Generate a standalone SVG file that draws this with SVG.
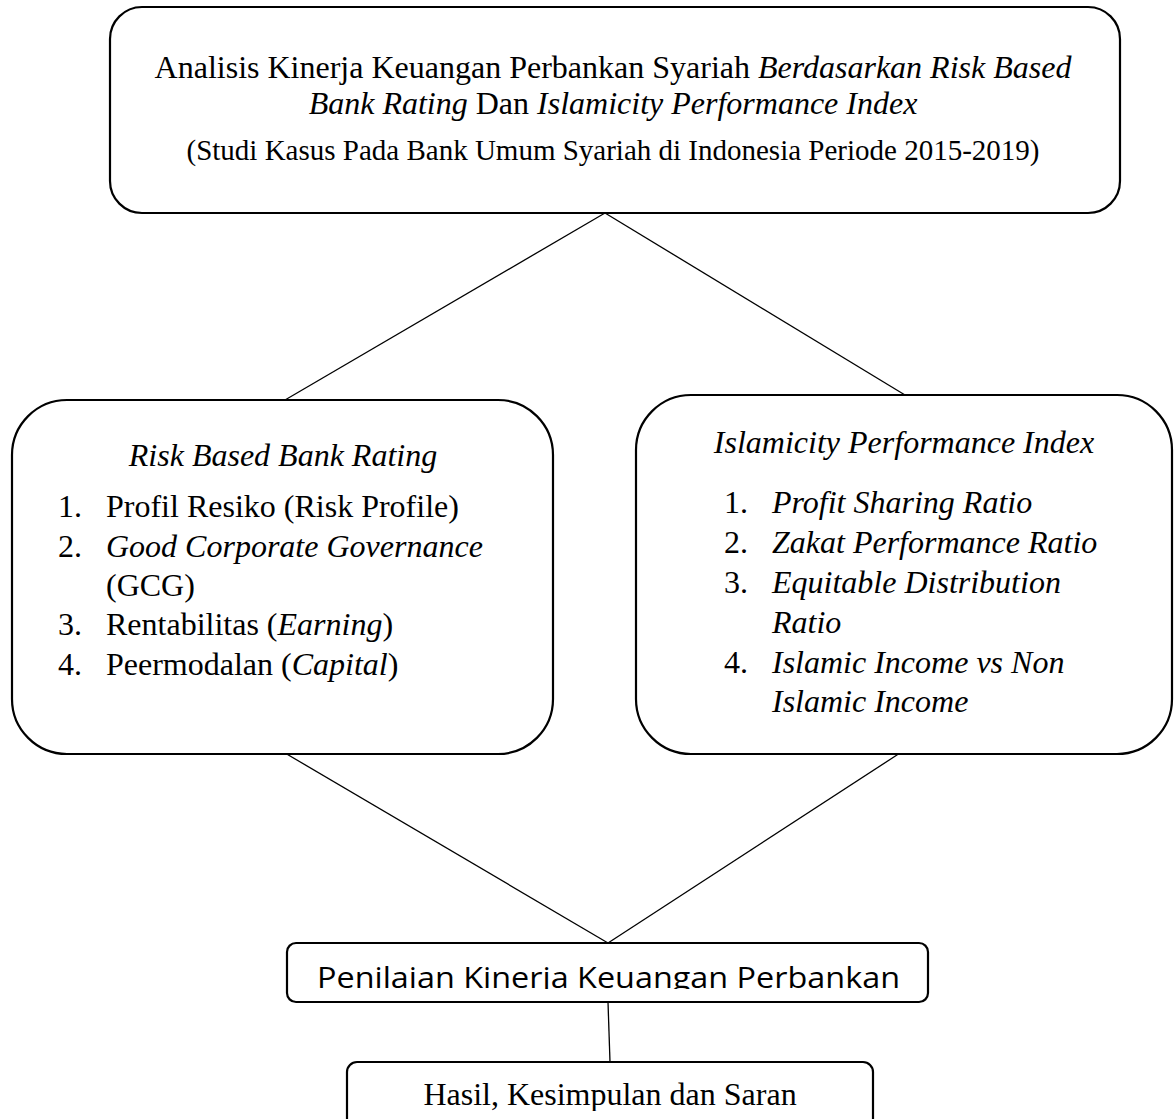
<svg xmlns="http://www.w3.org/2000/svg" width="1174" height="1119" viewBox="0 0 1174 1119">
  <style>
    .box { fill: #ffffff; stroke: #000000; stroke-width: 2.2; }
    .conn { stroke: #000000; stroke-width: 1.3; fill: none; }
    .t { font-family: "Liberation Serif", "Times New Roman", serif; font-size: 32px; fill: #000000; }
    .i { font-style: italic; }
    .s { font-family: "Open Sans", "Noto Sans", "Liberation Sans", sans-serif; font-size: 30px; fill: #000000; }
  </style>
  <defs>
    <clipPath id="clipPen">
      <rect x="280" y="940" width="660" height="49"/>
    </clipPath>
    <clipPath id="clipHasil">
      <rect x="340" y="1060" width="540" height="51"/>
    </clipPath>
  </defs>

  <g id="connectors">
    <line class="conn" x1="605" y1="213" x2="285" y2="400"/>
    <line class="conn" x1="605" y1="213" x2="905" y2="395"/>
    <line class="conn" x1="285" y1="753" x2="608" y2="943"/>
    <line class="conn" x1="900" y1="753" x2="608" y2="943"/>
    <line class="conn" x1="608" y1="1002" x2="610" y2="1062"/>
  </g>

  <g id="node-title">
    <rect class="box" x="110" y="7" width="1010" height="206" rx="32" ry="32"/>
    <text class="t" x="613" y="78" text-anchor="middle">Analisis Kinerja Keuangan Perbankan Syariah <tspan class="i">Berdasarkan Risk Based</tspan></text>
    <text class="t" x="613" y="114" text-anchor="middle"><tspan class="i">Bank Rating</tspan> Dan <tspan class="i">Islamicity Performance Index</tspan></text>
    <text class="t" x="613" y="160" text-anchor="middle" style="font-size:29px">(Studi Kasus Pada Bank Umum Syariah di Indonesia Periode 2015-2019)</text>
  </g>

  <g id="node-rbbr">
    <rect class="box" x="12" y="400" width="541" height="354" rx="55" ry="55"/>
    <text class="t i" x="283" y="466" text-anchor="middle">Risk Based Bank Rating</text>
    <text class="t" x="58" y="517">1.</text>
    <text class="t" x="106" y="517">Profil Resiko (Risk Profile)</text>
    <text class="t" x="58" y="557">2.</text>
    <text class="t i" x="106" y="557">Good Corporate Governance</text>
    <text class="t" x="106" y="596">(GCG)</text>
    <text class="t" x="58" y="635">3.</text>
    <text class="t" x="106" y="635">Rentabilitas (<tspan class="i">Earning</tspan>)</text>
    <text class="t" x="58" y="675">4.</text>
    <text class="t" x="106" y="675">Peermodalan (<tspan class="i">Capital</tspan>)</text>
  </g>

  <g id="node-ipi">
    <rect class="box" x="636" y="395" width="536" height="359" rx="55" ry="55"/>
    <text class="t i" x="904" y="453" text-anchor="middle">Islamicity Performance Index</text>
    <text class="t" x="724" y="513">1.</text>
    <text class="t i" x="772" y="513">Profit Sharing Ratio</text>
    <text class="t" x="724" y="553">2.</text>
    <text class="t i" x="772" y="553">Zakat Performance Ratio</text>
    <text class="t" x="724" y="593">3.</text>
    <text class="t i" x="772" y="593">Equitable Distribution</text>
    <text class="t i" x="772" y="633">Ratio</text>
    <text class="t" x="724" y="673">4.</text>
    <text class="t i" x="772" y="673">Islamic Income vs Non</text>
    <text class="t i" x="772" y="712">Islamic Income</text>
  </g>

  <g id="node-penilaian">
    <rect class="box" x="287" y="943" width="641" height="59" rx="9" ry="9"/>
    <text class="s" x="317" y="988" textLength="583" lengthAdjust="spacingAndGlyphs" clip-path="url(#clipPen)">Penilaian Kinerja Keuangan Perbankan</text>
  </g>

  <g id="node-hasil">
    <rect class="box" x="347" y="1062" width="526" height="80" rx="10" ry="10"/>
    <text class="t" x="610" y="1105" text-anchor="middle" clip-path="url(#clipHasil)">Hasil, Kesimpulan dan Saran</text>
  </g>
</svg>
